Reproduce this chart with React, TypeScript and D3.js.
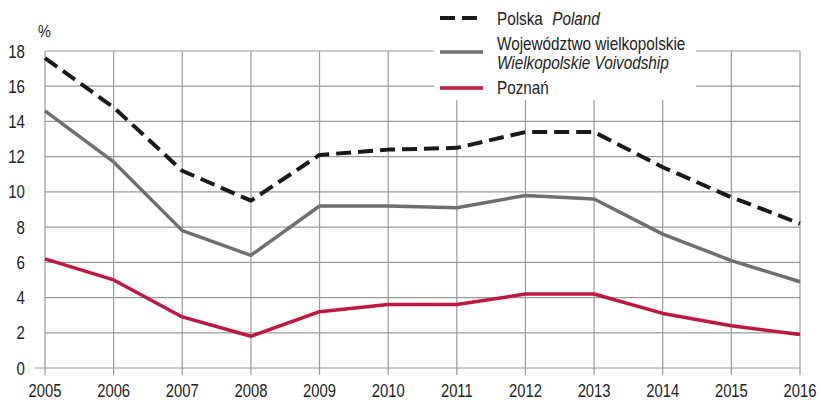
import React from "react";
import * as d3 from "d3";

const years = [2005, 2006, 2007, 2008, 2009, 2010, 2011, 2012, 2013, 2014, 2015, 2016];
const polska = [17.6, 14.8, 11.2, 9.5, 12.1, 12.4, 12.5, 13.4, 13.4, 11.4, 9.7, 8.2];
const wielkopolskie = [14.6, 11.7, 7.8, 6.4, 9.2, 9.2, 9.1, 9.8, 9.6, 7.6, 6.1, 4.9];
const poznan = [6.2, 5.0, 2.9, 1.8, 3.2, 3.6, 3.6, 4.2, 4.2, 3.1, 2.4, 1.9];
const yTicks = [0, 2, 4, 6, 8, 10, 12, 14, 16, 18];

const W = 821, H = 402;
const FONT = "'Liberation Sans', Arial, sans-serif";

function T({ x, y, sx, size, anchor, italic, children }: any) {
  return (
    <text
      transform={`translate(${x},${y}) scale(${sx},1)`}
      fontSize={size}
      textAnchor={anchor || "start"}
      fontStyle={italic ? "italic" : "normal"}
      fill="#222"
    >
      {children}
    </text>
  );
}

export default function App() {
  const x = d3.scaleLinear().domain([2005, 2016]).range([45, 800]);
  const y = d3.scaleLinear().domain([0, 18]).range([368, 51]);
  const line = d3
    .line<number>()
    .x((_, i) => x(years[i]))
    .y((d) => y(d));

  return (
    <svg width={W} height={H} style={{ position: "absolute", left: 0, top: 0 }} fontFamily={FONT}>
      <rect width={W} height={H} fill="#fff" />
      {yTicks.map((t) => (
        <g key={t}>
          <line x1={t === 0 ? 35 : 45} x2={800} y1={y(t)} y2={y(t)} stroke="#9a9a9a" strokeWidth={1.2} />
          <T x={25} y={y(t) + 6.5} sx={0.84} size={18} anchor="end">{t}</T>
        </g>
      ))}
      {years.map((yr) => (
        <g key={yr}>
          <line x1={x(yr)} x2={x(yr)} y1={51} y2={375} stroke="#9a9a9a" strokeWidth={1.2} />
          <T x={x(yr)} y={397} sx={0.8} size={18.5} anchor="middle">{yr}</T>
        </g>
      ))}
      <T x={38} y={37} sx={0.85} size={17}>%</T>
      <g strokeLinejoin="round">
        <path d={line(poznan) || ""} fill="none" stroke="#c0163f" strokeWidth={3.5} />
        <path d={line(wielkopolskie) || ""} fill="none" stroke="#6f6f6f" strokeWidth={3.5} />
        <path d={line(polska) || ""} fill="none" stroke="#1a1a1a" strokeWidth={4} strokeDasharray="15 7" />
      </g>
      <rect x={434} y={0} width={262} height={100} fill="#fff" />
      <line x1={440} x2={483} y1={18} y2={18} stroke="#1a1a1a" strokeWidth={4} strokeDasharray="15 7" />
      <T x={497} y={25} sx={0.85} size={18}>
        Polska <tspan dx={6} fontStyle="italic">Poland</tspan>
      </T>
      <line x1={440} x2={483} y1={52} y2={52} stroke="#6f6f6f" strokeWidth={3.5} />
      <T x={497} y={50} sx={0.85} size={18}>Województwo wielkopolskie</T>
      <T x={497} y={69} sx={0.85} size={18} italic>Wielkopolskie Voivodship</T>
      <line x1={440} x2={483} y1={88} y2={88} stroke="#c0163f" strokeWidth={3.5} />
      <T x={497} y={94} sx={0.85} size={18}>Poznań</T>
    </svg>
  );
}
